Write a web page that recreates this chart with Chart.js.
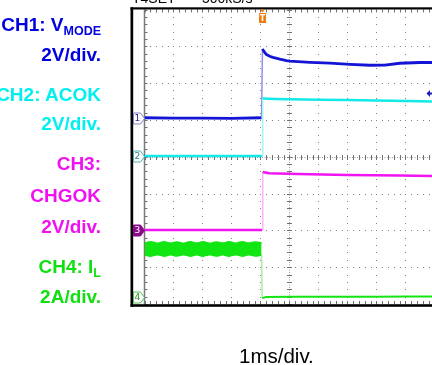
<!DOCTYPE html>
<html>
<head>
<meta charset="utf-8">
<script src="https://cdn.jsdelivr.net/npm/chart.js@4.4.1/dist/chart.umd.min.js"></script>
<style>
  html, body { margin: 0; padding: 0; background: #fff; overflow: hidden; }
  #wrap { position: relative; width: 432px; height: 365px; overflow: hidden; font-family: "Liberation Sans", Arial, sans-serif; }
  #scope { position: absolute; left: 0; top: 0; }
  .lbl { position: absolute; right: 331px; font-weight: bold; font-size: 19px; line-height: 19px; white-space: nowrap; text-align: right; }
  .lbl small { font-size: 12.5px; position: relative; top: 3.5px; }
  .c1 { color: #0000e0; }
  .c2 { color: #00f0f0; }
  .c3 { color: #f010f0; }
  .c4 { color: #10e010; }
  .hdr { position: absolute; top: -9px; font-size: 14px; line-height: 14px; color: #000; white-space: nowrap; }
  #xlabel { position: absolute; left: 239px; top: 346px; font-size: 20.5px; line-height: 20.5px; color: #000; white-space: nowrap; }
</style>
</head>
<body>
<div id="wrap">
  <canvas id="scope" width="432" height="365"></canvas>
  <div class="hdr" style="left:132px">T4SET</div>
  <div class="hdr" style="left:202px">500kS/s</div>

  <div class="lbl c1" style="top:15px">CH1: V<small>MODE</small></div>
  <div class="lbl c1" style="top:45px">2V/div.</div>
  <div class="lbl c2" style="top:85px">CH2: ACOK</div>
  <div class="lbl c2" style="top:114px">2V/div.</div>
  <div class="lbl c3" style="top:154px">CH3:</div>
  <div class="lbl c3" style="top:186px">CHGOK</div>
  <div class="lbl c3" style="top:217px">2V/div.</div>
  <div class="lbl c4" style="top:257px">CH4: I<small>L</small></div>
  <div class="lbl c4" style="top:287px">2A/div.</div>

  <div id="xlabel">1ms/div.</div>
</div>

<script>
// screen: 10 x 1ms divisions, 8 vertical divisions (centre = 0)
const timeDivs = 10;
const voltDivs = 8;

// channel ground markers (divisions from centre) and scale per division
const ch1Offset = 1.05, ch2Offset = 0.02, ch3Offset = -1.99, ch4Offset = -3.81;
const voltsPerDiv = 2, ampsPerDiv = 2;

// CH1: V_MODE (V)
const ch1Time  = [0, 1.0, 2.0, 3.0, 4.04, 4.07, 4.14, 4.21, 4.32, 4.43, 4.67, 4.9, 5.02, 5.71, 6.40, 7.09, 7.78, 8.29, 8.81, 9.50, 9.92];
const ch1Volts = [0.02, 0.0, 0.0, -0.02, 0.02, 3.76, 3.58, 3.45, 3.36, 3.30, 3.20, 3.12, 3.09, 3.03, 2.99, 2.92, 2.87, 2.88, 2.98, 3.02, 3.02];

// CH2: ACOK (V)
const ch2Time  = [0, 1.0, 2.0, 3.0, 4.06, 4.08, 4.5, 5.0, 6.0, 7.0, 8.0, 9.0, 9.92];
const ch2Volts = [0, 0, 0, 0, 0, 3.12, 3.10, 3.08, 3.06, 3.04, 3.02, 2.99, 2.96];

// CH3: CHGOK (V)
const ch3Time  = [0, 1.0, 2.0, 3.0, 4.06, 4.08, 4.3, 5.3, 7.0, 8.8, 9.92];
const ch3Volts = [0, 0, 0, 0, 0, 3.15, 3.08, 3.04, 2.99, 2.96, 2.93];

// CH4: I_L (A) - switching ripple band before the edge, then zero
const ch4BandTime = [0, 0.22, 0.45, 0.67, 0.9, 1.12, 1.35, 1.57, 1.8, 2.02, 2.25, 2.47, 2.7, 2.92, 3.15, 3.37, 3.6, 3.82, 4.04];
const ch4BandHigh = [2.93, 3.00, 2.92, 3.00, 2.93, 2.99, 2.92, 3.00, 2.93, 3.00, 2.92, 2.99, 2.93, 3.00, 2.92, 3.00, 2.93, 2.99, 2.94];
const ch4BandLow  = [2.29, 2.22, 2.30, 2.22, 2.29, 2.23, 2.30, 2.22, 2.29, 2.22, 2.30, 2.23, 2.29, 2.22, 2.30, 2.22, 2.29, 2.23, 2.28];
const ch4Time = [4.04, 4.06, 4.2, 5.0, 6.0, 7.0, 8.0, 9.0, 9.92];
const ch4Amps = [2.26, -0.06, 0.0, 0.01, 0.01, 0.02, 0.02, 0.03, 0.03];

const triggerTime = 4.05;

function trace(times, values, offset, perDiv) {
  return times.map((t, i) => ({ x: t, y: offset + values[i] / perDiv }));
}

// fast edges show up faint on the scope
function edge(light, width) {
  return {
    borderColor: c => Math.abs(c.p1.parsed.x - c.p0.parsed.x) < 0.05 ? light : undefined,
    borderWidth: c => Math.abs(c.p1.parsed.x - c.p0.parsed.x) < 0.05 ? width : undefined
  };
}

const scopeGrid = {
  id: 'scopeGrid',
  beforeDatasetsDraw(chart) {
    const { ctx, chartArea: a, scales: { x, y } } = chart;
    ctx.save();
    ctx.fillStyle = '#808080';
    // dotted division lines
    for (let i = 1; i < timeDivs; i++) {
      if (i === timeDivs / 2) continue;
      const px = Math.round(x.getPixelForValue(i));
      for (let k = 0; k <= voltDivs * 5; k++) {
        ctx.fillRect(px, Math.round(y.getPixelForValue(-voltDivs / 2 + k / 5)), 1, 1);
      }
    }
    for (let j = -3; j <= 3; j++) {
      if (j === 0) continue;
      const py = Math.round(y.getPixelForValue(j));
      for (let k = 0; k <= timeDivs * 5; k++) {
        ctx.fillRect(Math.round(x.getPixelForValue(k / 5)), py, 1, 1);
      }
    }
    // centre cross with ticks
    const cx = Math.round(x.getPixelForValue(timeDivs / 2)) + 0.5;
    const cy = Math.round(y.getPixelForValue(0)) + 0.5;
    ctx.strokeStyle = '#a0a0a0';
    ctx.lineWidth = 1;
    ctx.setLineDash([1, 1.5]);
    ctx.beginPath();
    ctx.moveTo(cx, a.top); ctx.lineTo(cx, a.bottom);
    ctx.moveTo(a.left, cy); ctx.lineTo(a.right, cy);
    ctx.stroke();
    ctx.setLineDash([]);
    ctx.strokeStyle = '#707070';
    ctx.beginPath();
    for (let k = 0; k <= voltDivs * 5; k++) {
      const py = Math.round(y.getPixelForValue(-voltDivs / 2 + k / 5)) + 0.5;
      ctx.moveTo(cx - 2.5, py); ctx.lineTo(cx + 2.5, py);
      ctx.moveTo(a.left, py); ctx.lineTo(a.left + 3, py);
    }
    for (let k = 0; k <= timeDivs * 5; k++) {
      const px = Math.round(x.getPixelForValue(k / 5)) + 0.5;
      ctx.moveTo(px, cy - 2.5); ctx.lineTo(px, cy + 2.5);
      ctx.moveTo(px, a.top); ctx.lineTo(px, a.top + 3);
      ctx.moveTo(px, a.bottom); ctx.lineTo(px, a.bottom - 3);
    }
    ctx.stroke();
    // left edge
    ctx.strokeStyle = '#7a7a7a';
    ctx.lineWidth = 1.5;
    ctx.beginPath();
    ctx.moveTo(a.left, a.top); ctx.lineTo(a.left, a.bottom);
    ctx.stroke();
    ctx.restore();
  },
  afterDatasetsDraw(chart) {
    const { ctx, chartArea: a, scales: { x, y } } = chart;
    ctx.save();
    // black screen frame
    ctx.fillStyle = '#000';
    ctx.fillRect(130.5, 7.3, 2.7, 299.5);
    ctx.fillRect(130.5, 7.3, 302, 2.2);
    ctx.fillRect(130.5, 304.2, 302, 2.6);

    // channel ground tags
    const tag = (off, label, fill, stroke, txt) => {
      const yc = Math.round(y.getPixelForValue(off)) + 0.5;
      const l = 133.5, r = 140.5, tip = a.left, h = 5.5;
      ctx.beginPath();
      ctx.moveTo(l, yc - h); ctx.lineTo(r, yc - h); ctx.lineTo(tip, yc);
      ctx.lineTo(r, yc + h); ctx.lineTo(l, yc + h); ctx.closePath();
      ctx.fillStyle = fill; ctx.fill();
      ctx.strokeStyle = stroke; ctx.lineWidth = 1; ctx.stroke();
      ctx.fillStyle = txt;
      ctx.font = '9px "DejaVu Sans"';
      ctx.textAlign = 'center';
      ctx.textBaseline = 'middle';
      ctx.fillText(label, 137.3, yc + 0.5);
    };
    tag(ch1Offset, '1', '#ffffff', '#8080c8', '#2a2a90');
    tag(ch2Offset, '2', '#ffffff', '#50b0b0', '#208888');
    tag(ch3Offset, '3', '#8a0a8a', '#8a0a8a', '#ffffff');
    tag(ch4Offset, '4', '#ffffff', '#50c050', '#209020');

    // trigger position marker
    const tx = Math.round(x.getPixelForValue(triggerTime)) + 0.5;
    ctx.fillStyle = '#f07a10';
    ctx.beginPath();
    ctx.moveTo(tx - 2.5, 9.5); ctx.lineTo(tx + 2.5, 9.5); ctx.lineTo(tx, 12.5); ctx.closePath();
    ctx.fill();
    ctx.fillRect(tx - 3.5, 13, 7, 10);
    ctx.fillStyle = '#fff';
    ctx.font = 'bold 8px "DejaVu Sans"';
    ctx.textAlign = 'center';
    ctx.textBaseline = 'middle';
    ctx.fillText('T', tx, 18.5);

    // trigger level arrow (CH1) at right edge
    const ty = 93.5;
    ctx.fillStyle = '#1c1cb8';
    ctx.beginPath();
    ctx.moveTo(426.5, ty); ctx.lineTo(430, ty - 3.5); ctx.lineTo(430, ty + 3.5); ctx.closePath();
    ctx.fill();
    ctx.fillRect(429.5, ty - 1, 2.5, 2);
    ctx.restore();
  }
};

new Chart(document.getElementById('scope'), {
  type: 'line',
  data: {
    datasets: [
      {
        label: 'CH4 ripple high',
        data: trace(ch4BandTime, ch4BandHigh, ch4Offset, ampsPerDiv),
        borderColor: '#12e612', backgroundColor: '#12e612',
        borderWidth: 1.5, tension: 0.4, fill: '+1'
      },
      {
        label: 'CH4 ripple low',
        data: trace(ch4BandTime, ch4BandLow, ch4Offset, ampsPerDiv),
        borderColor: '#12e612', borderWidth: 1.5, tension: 0.4, fill: false
      },
      {
        label: 'CH4: IL',
        data: trace(ch4Time, ch4Amps, ch4Offset, ampsPerDiv),
        borderColor: '#12e612', borderWidth: 2, fill: false,
        segment: edge('#a8f0a8', 1.5)
      },
      {
        label: 'CH3: CHGOK',
        data: trace(ch3Time, ch3Volts, ch3Offset, voltsPerDiv),
        borderColor: '#f014f0', borderWidth: 2.5, fill: false,
        segment: edge('#ffb0ff', 1.5)
      },
      {
        label: 'CH2: ACOK',
        data: trace(ch2Time, ch2Volts, ch2Offset, voltsPerDiv),
        borderColor: '#14e8e8', borderWidth: 2.5, fill: false,
        segment: edge('#a8f4f4', 1.5)
      },
      {
        label: 'CH1: VMODE',
        data: trace(ch1Time, ch1Volts, ch1Offset, voltsPerDiv),
        borderColor: '#1414d4', borderWidth: 2.8, fill: false,
        segment: edge('#9090f0', 1.5)
      }
    ]
  },
  options: {
    responsive: false,
    animation: false,
    layout: { padding: { left: 144.5, top: 9.5, right: 0, bottom: 61 } },
    plugins: { legend: { display: false }, tooltip: { enabled: false } },
    elements: { point: { radius: 0 }, line: { tension: 0 } },
    scales: {
      x: { type: 'linear', min: 0, max: 9.92, display: false },
      y: { min: -voltDivs / 2, max: voltDivs / 2, display: false }
    }
  },
  plugins: [scopeGrid]
});
</script>
</body>
</html>
